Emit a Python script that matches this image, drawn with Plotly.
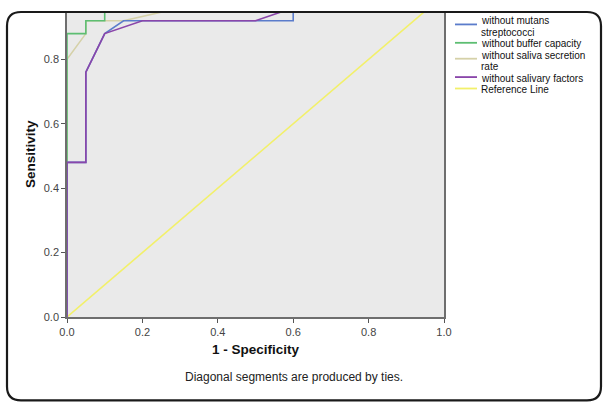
import plotly.graph_objects as go

# ROC curve data (1 - specificity, sensitivity)
mutans_x = [0, 0, 0.05, 0.05, 0.10, 0.15, 0.60, 0.60, 1.0]
mutans_y = [0, 0.48, 0.48, 0.76, 0.88, 0.92, 0.92, 1.0, 1.0]

buffer_x = [0, 0, 0.05, 0.05, 0.10, 0.10, 1.0]
buffer_y = [0, 0.88, 0.88, 0.92, 0.92, 1.0, 1.0]

secretion_x = [0, 0, 0.05, 0.05, 0.15, 0.30, 0.35, 1.0]
secretion_y = [0, 0.80, 0.88, 0.92, 0.92, 0.96, 1.0, 1.0]

salivary_x = [0, 0, 0.05, 0.05, 0.10, 0.20, 0.50, 0.60, 0.70, 1.0]
salivary_y = [0, 0.48, 0.48, 0.76, 0.88, 0.92, 0.92, 0.96, 1.0, 1.0]

ref_x = [0, 1]
ref_y = [0, 1]

names = ["without mutans<br>streptococci", "without buffer capacity",
         "without saliva secretion<br>rate", "without salivary factors", "Reference Line"]
colors = ["#5B7CCB", "#5DBE72", "#D5D1A8", "#8A46AA", "#F2F06A"]

W, H = 604, 404
L, R, T, B = 67, 160, 11, 87
PW, PH = W - L - R, H - T - B
Y_TOP = 0.944

fig = go.Figure()
series = [(mutans_x, mutans_y), (buffer_x, buffer_y), (secretion_x, secretion_y),
          (salivary_x, salivary_y), (ref_x, ref_y)]
order = [4, 2, 1, 0, 3]
for i in order:
    xs, ys = series[i]
    fig.add_trace(go.Scatter(x=xs, y=ys, mode="lines", name=names[i].replace("<br>", " "),
                             line=dict(color=colors[i], width=1.6),
                             showlegend=False, hoverinfo="skip"))


def px(x):
    return (x - L) / PW


def py(y):
    return (H - B - y) / PH


x0, y0, x1, y1, rr = 7, 10, 601, 401, 14
path = (f"M {px(x0+rr)},{py(y0)} L {px(x1-rr)},{py(y0)} "
        f"Q {px(x1)},{py(y0)} {px(x1)},{py(y0+rr)} "
        f"L {px(x1)},{py(y1-rr)} Q {px(x1)},{py(y1)} {px(x1-rr)},{py(y1)} "
        f"L {px(x0+rr)},{py(y1)} Q {px(x0)},{py(y1)} {px(x0)},{py(y1-rr)} "
        f"L {px(x0)},{py(y0+rr)} Q {px(x0)},{py(y0)} {px(x0+rr)},{py(y0)} Z")

shapes = [dict(type="path", xref="paper", yref="paper", path=path,
               line=dict(color="#1A1A1A", width=2.2), layer="above")]
annotations = []

# legend (drawn as shapes + text, SPSS-style compact spacing)
legend_line_y = [22.5, 41, 57, 75.5, 87]
legend_text_y = [[19, 30.5], [42], [53.5, 65], [76.5], [88]]
for i, nm in enumerate(names):
    shapes.append(dict(type="line", xref="paper", yref="paper",
                       x0=px(455), x1=px(477), y0=py(legend_line_y[i]), y1=py(legend_line_y[i]),
                       line=dict(color=colors[i], width=1.8)))
    for part, ty in zip(nm.split("<br>"), legend_text_y[i]):
        annotations.append(dict(text=part, x=px(478.5), y=py(ty), xref="paper", yref="paper",
                                xanchor="left", yanchor="middle", showarrow=False,
                                font=dict(size=10, color="#111111")))

annotations += [
    dict(text="<b>Sensitivity</b>", x=px(30), y=py(153), xref="paper", yref="paper",
         xanchor="center", yanchor="middle",
         textangle=-90, showarrow=False, font=dict(size=13.5, color="#111111")),
    dict(text="<b>1 - Specificity</b>", x=px(256), y=py(350), xref="paper", yref="paper",
         xanchor="center", yanchor="middle",
         showarrow=False, font=dict(size=13.5, color="#111111")),
    dict(text="Diagonal segments are produced by ties.", x=px(294), y=py(377),
         xref="paper", yref="paper", xanchor="center", yanchor="middle", showarrow=False,
         font=dict(size=12, color="#222222")),
]

FONT = "Liberation Sans, Arial, sans-serif"
fig.update_layout(
    width=W, height=H,
    margin=dict(l=L, r=R, t=T, b=B),
    paper_bgcolor="white", plot_bgcolor="#EAEAEA",
    font=dict(family=FONT, color="#333333", size=11),
    showlegend=False,
    xaxis=dict(range=[0, 1], tickvals=[0, 0.2, 0.4, 0.6, 0.8, 1.0], tickformat=".1f",
               showgrid=False, zeroline=False, showline=True, linecolor="#6E6E6E",
               linewidth=1.5, mirror=True, ticks="outside", ticklen=4,
               tickcolor="#555555", tickfont=dict(size=11, color="#444444")),
    yaxis=dict(range=[0, Y_TOP], tickvals=[0, 0.2, 0.4, 0.6, 0.8], tickformat=".1f",
               showgrid=False, zeroline=False, showline=True, linecolor="#6E6E6E",
               linewidth=1.5, mirror=True, ticks="outside", ticklen=4,
               tickcolor="#555555", tickfont=dict(size=11, color="#444444")),
    shapes=shapes,
    annotations=annotations,
)

fig.write_html("out.html", config={"displayModeBar": False},
               post_script="document.body.style.margin='0';document.body.style.overflow='hidden';")
